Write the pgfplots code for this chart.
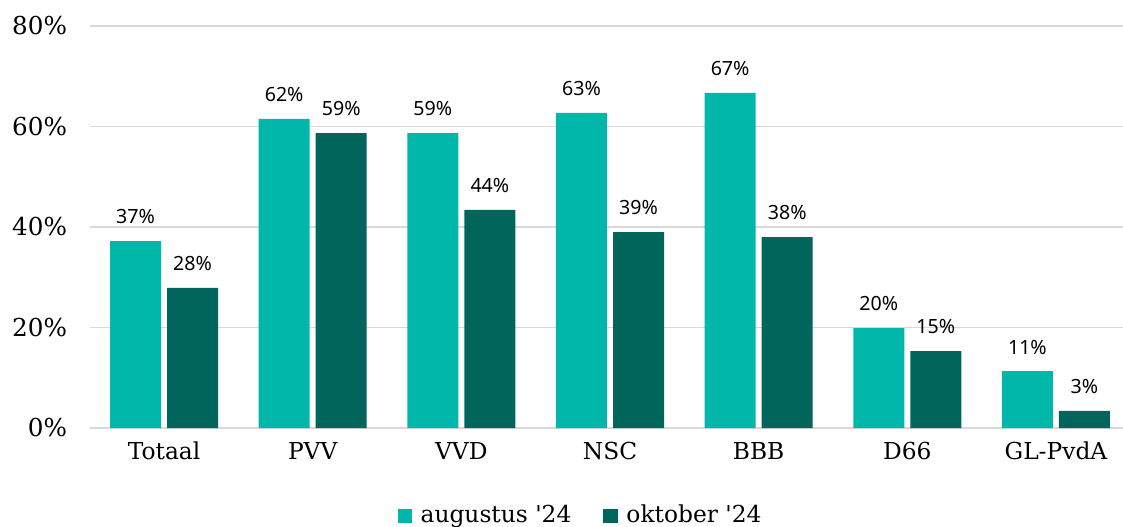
\documentclass[border=0pt]{standalone}
\usepackage{fontspec}
\setmainfont{DejaVu Serif}
\newfontfamily\labelfont{Noto Sans}
\usepackage{pgfplots}
\pgfplotsset{compat=1.18}
\definecolor{aug}{RGB}{0,183,170}
\definecolor{okt}{RGB}{0,102,92}
\definecolor{gridgray}{RGB}{217,217,217}

\begin{document}
\begin{tikzpicture}
  \begin{axis}[
      at={(67.3pt,73.5pt)}, anchor=south west,
      scale only axis,
      width=780.4pt, height=301.5pt,
      ybar, bar width=38.25pt,
      xmin=-0.5, xmax=6.5,
      ymin=0, ymax=80,
      xtick={0,...,6},
      xticklabels={Totaal,PVV,VVD,NSC,BBB,D66,GL-PvdA},
      ytick={0,20,40,60,80},
      yticklabel={\pgfmathprintnumber{\tick}\%},
      /pgf/number format/assume math mode=true,
      xticklabel style={yshift=-7pt, font=\fontsize{17.5}{20}\selectfont},
      yticklabel style={xshift=-13.5pt, font=\fontsize{18.5}{20}\selectfont},
      major tick length=0pt,
      axis line style={draw=none},
      ymajorgrids, grid style={gridgray, line width=1.4pt},
      extra y ticks={0}, extra y tick labels={},
      extra y tick style={grid style={gridgray, line width=1.6pt}},
      point meta=explicit symbolic,
      nodes near coords,
      nodes near coords style={font=\labelfont\fontsize{14.7}{16}\selectfont,
        anchor=south, inner sep=0pt, yshift=12.5pt},
      legend columns=2,
      legend style={at={(0.472,-0.216)}, anchor=center, draw=none,
        font=\fontsize{17.5}{20}\selectfont,
        /tikz/every odd column/.append style={column sep=4.5pt},
        /tikz/every even column/.append style={column sep=22pt}},
      legend image code/.code={\fill[#1] (0pt,-6.3pt) rectangle (10.8pt,4.7pt);},
    ]
    \addplot[fill=aug, draw=none, bar shift=-21.4pt] coordinates {
      (0,37.2)[37\%] (1,61.5)[62\%] (2,58.7)[59\%] (3,62.7)[63\%]
      (4,66.7)[67\%] (5,19.9)[20\%] (6,11.3)[11\%]
    };
    \addlegendentry{augustus \textquotesingle 24}
    \addplot[fill=okt, draw=none, bar shift=21.4pt] coordinates {
      (0,27.9)[28\%] (1,58.7)[59\%] (2,43.4)[44\%] (3,39.0)[39\%]
      (4,38.0)[38\%] (5,15.3)[15\%] (6,3.4)[3\%]
    };
    \addlegendentry{oktober \textquotesingle 24}
  \end{axis}
  \pgfresetboundingbox
  \useasboundingbox (0,0) rectangle (842.25pt,394.5pt);
\end{tikzpicture}
\end{document}
